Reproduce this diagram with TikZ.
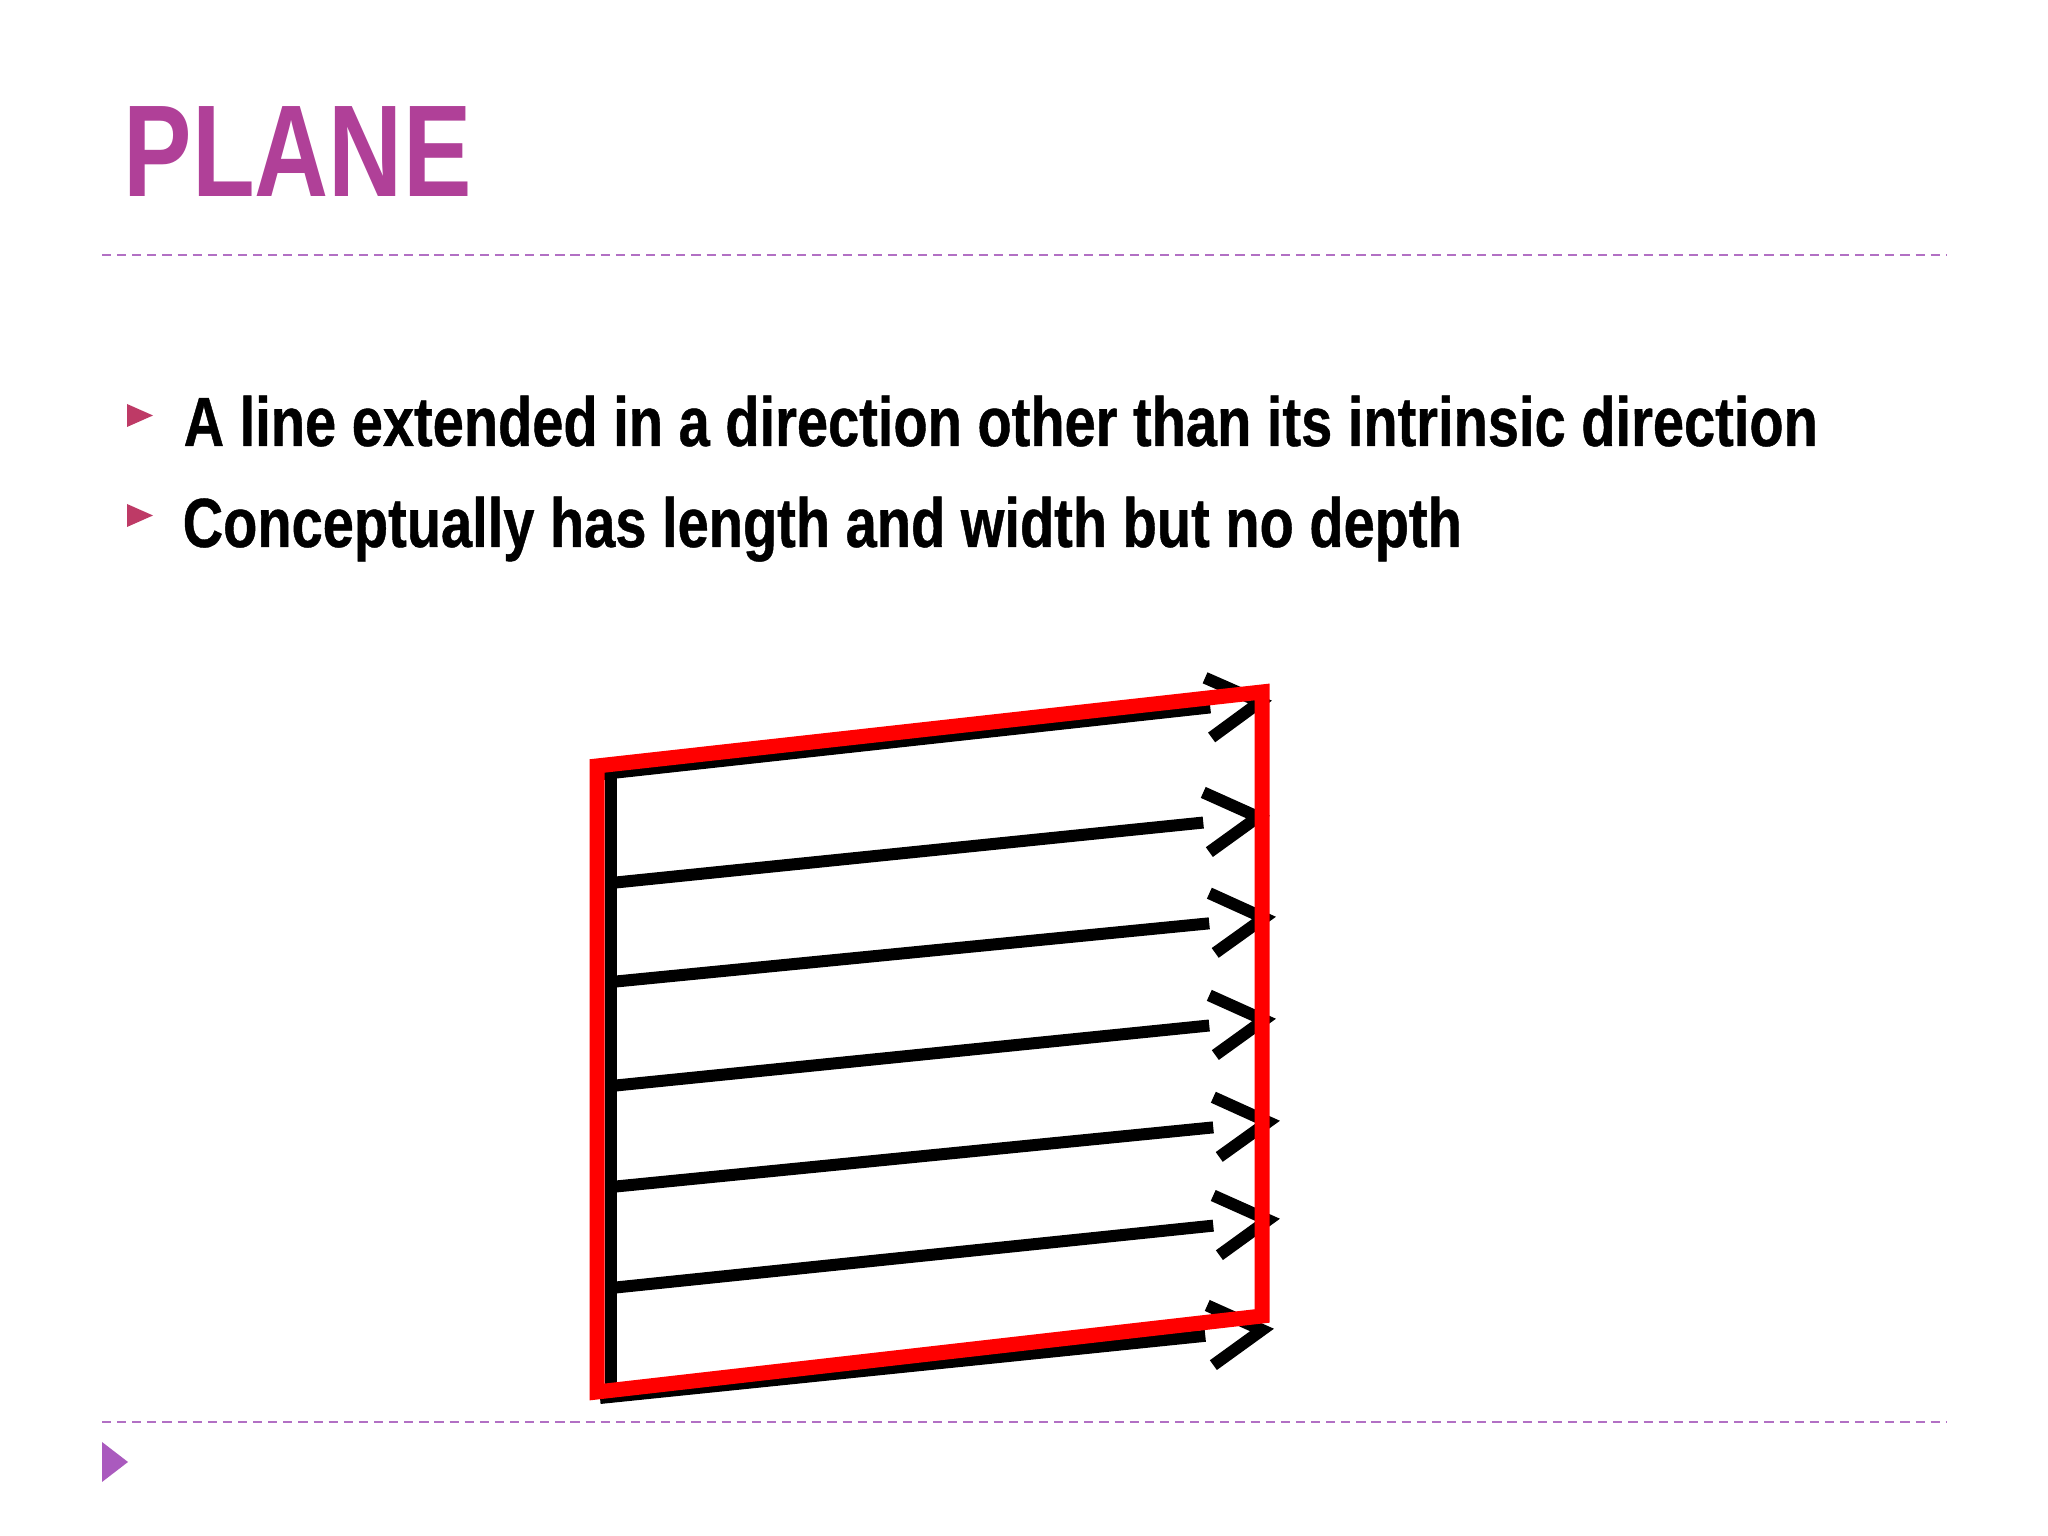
\documentclass[tikz,border=0pt]{standalone}
\usepackage{fontspec}
\usepackage{tikz}
\usetikzlibrary{calc}
\setmainfont{Liberation Sans}
\newfontfamily\titlefont[FakeStretch=0.785]{Liberation Sans}
\newfontfamily\narrowfont[FakeStretch=0.805,FakeBold=0.6]{Liberation Sans}
\definecolor{titlepurple}{RGB}{176,64,152}
\definecolor{rulepurple}{RGB}{178,112,196}
\definecolor{bulletred}{RGB}{190,58,102}
\definecolor{cornerpurple}{RGB}{170,90,190}
\definecolor{planered}{RGB}{255,0,0}

\begin{document}
\begin{tikzpicture}[
		rule/.style={rulepurple,line width=0.7pt,dash pattern=on 2.6pt off 1.7pt},
		bullettext/.style={anchor=base west,inner sep=0pt,font=\narrowfont\bfseries\fontsize{19.8}{24}\selectfont},
		shaft/.style={black,line width=0.12cm},
		barb/.style={black,line width=0.12cm,line join=miter},
		edge/.style={planered,line width=0.15cm,line join=miter}]
			\useasboundingbox (0,0) rectangle (20.48,15.36);
			\fill[white] (0,0) rectangle (20.48,15.36);
			% heading and rules
			\node[anchor=base west,inner sep=0pt,titlepurple,font=\titlefont\bfseries\fontsize{37.2}{40}\selectfont] (title) at (1.23,13.39) {PLANE};
			\draw[rule] (1.02,12.81) -- (19.46,12.81);
			\draw[rule] (1.02,1.14) -- (19.46,1.14);
			\fill[cornerpurple] (1.02,0.94) -- (1.28,0.74) -- (1.02,0.54) -- cycle;
			% bullets
			\fill[bulletred] (1.27,11.32) -- (1.53,11.205) -- (1.27,11.09) -- cycle;
			\fill[bulletred] (1.27,10.32) -- (1.53,10.205) -- (1.27,10.09) -- cycle;
			\node[bullettext] (first) at (1.83,10.90) {A line extended in a direction other than its intrinsic direction};
			\node[bullettext] (second) at (1.82,9.89) {Conceptually has length and width but no depth};
			% the lines that sweep out the plane
			\coordinate (s1) at (6.03,7.62);	\coordinate (t1) at (12.60,8.34);
			\coordinate (s2) at (6.11,6.53);	\coordinate (t2) at (12.58,7.19);
			\coordinate (s3) at (6.11,5.54);	\coordinate (t3) at (12.64,6.18);
			\coordinate (s4) at (6.11,4.50);	\coordinate (t4) at (12.64,5.16);
			\coordinate (s5) at (6.11,3.49);	\coordinate (t5) at (12.68,4.14);
			\coordinate (s6) at (6.11,2.48);	\coordinate (t6) at (12.68,3.16);
			\coordinate (s7) at (6.00,1.38);	\coordinate (t7) at (12.62,2.06);
			\draw[shaft] (6.11,7.68) -- (6.11,1.38);
			\draw[shaft] (s1) -- ($(t1)!0.50cm!(s1)$);
			\draw[shaft] (s2) -- ($(t2)!0.55cm!(s2)$);
			\draw[shaft] (s3) -- ($(t3)!0.55cm!(s3)$);
			\draw[shaft] (s4) -- ($(t4)!0.55cm!(s4)$);
			\draw[shaft] (s5) -- ($(t5)!0.55cm!(s5)$);
			\draw[shaft] (s6) -- ($(t6)!0.55cm!(s6)$);
			\draw[shaft] (s7) -- ($(t7)!0.57cm!(s7)$);
			\draw[barb] ($(t1)!0.6cm!30:(s1)$) -- (t1) -- ($(t1)!0.6cm!-30:(s1)$);
			\draw[barb] ($(t2)!0.6cm!30:(s2)$) -- (t2) -- ($(t2)!0.6cm!-30:(s2)$);
			\draw[barb] ($(t3)!0.6cm!30:(s3)$) -- (t3) -- ($(t3)!0.6cm!-30:(s3)$);
			\draw[barb] ($(t4)!0.6cm!30:(s4)$) -- (t4) -- ($(t4)!0.6cm!-30:(s4)$);
			\draw[barb] ($(t5)!0.6cm!30:(s5)$) -- (t5) -- ($(t5)!0.6cm!-30:(s5)$);
			\draw[barb] ($(t6)!0.6cm!30:(s6)$) -- (t6) -- ($(t6)!0.6cm!-30:(s6)$);
			\draw[barb] ($(t7)!0.6cm!30:(s7)$) -- (t7) -- ($(t7)!0.6cm!-30:(s7)$);
			% outline of the plane
			\draw[edge] (5.97,7.70) -- (12.62,8.44) -- (12.62,2.20) -- (5.97,1.44) -- cycle;
		\end{tikzpicture}
\end{document}
